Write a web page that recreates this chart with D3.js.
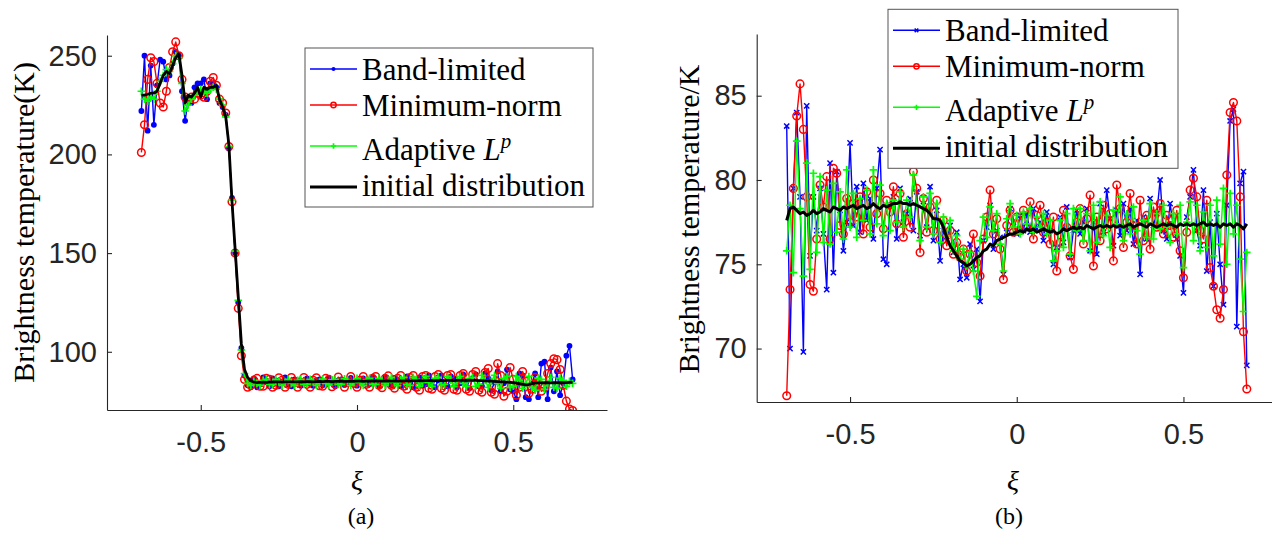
<!DOCTYPE html>
<html>
<head>
<meta charset="utf-8">
<script src="https://cdn.jsdelivr.net/npm/d3@7"></script>
<style>
  html, body { margin: 0; padding: 0; background: #fff; }
  svg { display: block; }
</style>
</head>
<body>
<script>
// ---------------- DATA ----------------
const xi = [-0.69,-0.68,-0.67,-0.66,-0.65,-0.64,-0.63,-0.62,-0.61,-0.60,
-0.59,-0.58,-0.57,-0.56,-0.55,-0.54,-0.53,-0.52,-0.51,-0.50,
-0.49,-0.48,-0.47,-0.46,-0.45,-0.44,-0.43,-0.42,-0.41,-0.40,
-0.39,-0.38,-0.37,-0.36,-0.35,-0.34,-0.33,-0.32,-0.31,-0.30,
-0.29,-0.28,-0.27,-0.26,-0.25,-0.24,-0.23,-0.22,-0.21,-0.20,
-0.19,-0.18,-0.17,-0.16,-0.15,-0.14,-0.13,-0.12,-0.11,-0.10,
-0.09,-0.08,-0.07,-0.06,-0.05,-0.04,-0.03,-0.02,-0.01,0.00,
0.01,0.02,0.03,0.04,0.05,0.06,0.07,0.08,0.09,0.10,
0.11,0.12,0.13,0.14,0.15,0.16,0.17,0.18,0.19,0.20,
0.21,0.22,0.23,0.24,0.25,0.26,0.27,0.28,0.29,0.30,
0.31,0.32,0.33,0.34,0.35,0.36,0.37,0.38,0.39,0.40,
0.41,0.42,0.43,0.44,0.45,0.46,0.47,0.48,0.49,0.50,
0.51,0.52,0.53,0.54,0.55,0.56,0.57,0.58,0.59,0.60,
0.61,0.62,0.63,0.64,0.65,0.66,0.67,0.68,0.69];

// Panel (a)
const aBandLimited = [222,250,212,245,215,235,248,247,238,240,
246,252,250,232,217,228,226,234,236,236,
238,228,236,236,234,226,224,220,203,178,
150,125,102,88,83,82,86.5,82.0,83.5,87.0,
84.5,82.5,86.5,85.5,82.5,84.5,87.0,83.5,82.5,86.0,
85.5,82.8,84.0,86.5,84.0,82.8,85.5,86.0,83.0,83.5,
86.5,84.5,82.5,85.5,86.0,83.2,83.8,86.8,85.0,82.8,
85.2,86.5,83.8,83.5,87.0,85.0,82.6,85.5,87.2,83.8,
83.0,86.8,85.8,82.5,84.5,87.5,84.0,82.0,86.0,87.0,
82.8,83.5,88.0,85.0,82.0,85.5,88.0,83.5,82.5,87.5,
86.5,82.0,84.0,88.5,84.5,81.5,86.5,88.5,82.5,82.5,
89.0,86.5,80.5,84.5,90,80,84,91,81,80,
76,89,88,77,76,84,89,77,94,95,
76,92,80,90,78,84,98,103,86];

const aMinimumNorm = [201,215,238,249,247,236,226,224,232,244,
252,257,250,238,229,228,229,228,231,230,
229,232,237,239,235,228,226,221,204,176,
150,122,98,86,82,83,85.5,86.5,82.5,82.5,
86.5,86.0,82.0,83.0,86.8,85.5,82.0,83.5,87.0,84.5,
82.0,84.5,87.0,83.5,82.0,85.5,86.8,82.8,82.5,86.5,
86.0,82.3,83.5,87.2,85.0,82.0,84.5,87.5,84.0,82.0,
85.5,87.5,83.5,82.0,86.5,87.5,83.0,81.8,86.5,87.8,
83.0,81.5,86.5,88.0,82.5,81.0,87.0,88.0,82.0,80.5,
87.5,88.0,81.5,81.0,87.5,88.5,81.5,80.5,88.0,88.5,
81.0,80.5,88.0,89.0,81.0,80.0,88.5,90.0,80.5,79.5,
89.5,91.5,79.5,78.5,94,88,77.5,80,92,86,
78,82,90,85,79,81,87,84,80,82,
89,94,96.5,96,91,83,75,71,70.2];

const aAdaptiveLp = [232,228,227,229,228,232,237,240,243,242,
246,250,249,236,222,225,228,230,232,233,
232,231,233,234,233,228,225,219,204,177,
151,126,101,89,84,83,85.0,84.0,83.0,85.5,
86.0,83.5,83.5,86.0,85.0,83.0,84.5,86.0,84.0,83.0,
85.5,86.0,83.5,83.5,86.0,85.0,83.0,84.5,86.2,84.0,
83.2,85.8,86.0,83.5,83.5,86.3,85.5,83.0,84.5,86.5,
84.5,83.0,85.5,86.5,83.5,83.5,86.5,85.5,83.0,84.5,
87.0,84.5,82.8,85.8,87.0,83.5,83.0,87.0,86.0,82.5,
84.5,87.5,84.5,82.5,86.5,87.0,83.0,83.5,87.5,85.5,
82.5,85.0,87.5,84.0,82.5,86.5,87.0,82.5,83.5,88.0,
85.5,82.0,85.0,88.0,84.0,81.5,86.5,87.5,82.0,82.5,
87.5,85.5,81.5,84.0,87.5,82.0,80.5,86.5,86.0,81.0,
84.0,87.0,82.0,81.5,86.5,85.5,82.5,85.0,84.0];

const aInitial = [230,230,230.5,231,231,232,236,240,242,241,
245,249,251,240,226,230,229,231,234,229,
234,233,234,234,235,228,224,219,205,176,
152,128,104,91,87,85.3,84.6,84.4,84.5,84.6,
84.5,84.6,84.6,84.7,84.7,84.6,84.7,84.8,84.7,84.8,
84.8,84.9,84.8,84.9,84.9,84.8,84.9,85.0,84.9,85.0,
85.0,84.9,85.0,85.0,85.1,85.0,85.0,85.1,85.0,85.1,
85.1,85.0,85.1,85.2,85.1,85.1,85.2,85.1,85.2,85.2,
85.1,85.2,85.3,85.2,85.3,85.3,85.2,85.3,85.3,85.4,
85.3,85.4,85.4,85.3,85.4,85.4,85.5,85.4,85.5,85.5,
85.4,85.5,85.5,85.6,85.5,85.6,85.5,85.5,85.4,85.4,
85.3,85.2,85.1,85.0,84.9,84.8,84.7,84.6,84.5,84.3,
84.1,83.8,83.5,83.2,83.4,83.9,84.1,84.2,84.2,84.3,
84.3,84.2,84.3,84.4,84.3,84.4,84.4,84.5,84.5];

// Panel (b)
const bBandLimited = [83.2,70.0,79.5,84.0,79.0,69.8,84.4,75.5,79.0,77.0,
79.5,76.8,73.5,81.0,74.5,80.5,78.2,75.8,77.5,82.2,
77.3,79.6,76.9,79.8,77.6,78.9,76.5,79.5,81.8,75.3,
75.0,78.5,79.0,76.5,79.5,77.5,78.0,78.9,77.0,79.3,
76.7,78.5,77.2,79.6,76.4,78.2,75.2,77.0,76.4,77.3,
75.7,76.9,74.1,75.0,74.2,76.2,74.7,75.9,72.8,76.4,
77.2,78.5,75.9,77.0,76.6,74.4,76.9,78.3,77.5,76.8,
77.9,77.0,78.0,76.9,78.3,77.1,77.5,76.4,78.1,77.0,
75.0,76.0,77.8,76.3,78.4,75.4,77.0,78.2,76.8,77.5,
78.3,75.8,77.5,75.6,78.6,76.9,79.4,77.7,76.1,78.2,
76.7,78.6,77.0,78.3,76.2,77.6,74.4,77.8,76.5,78.9,
77.3,78.0,80.0,77.0,76.5,78.6,77.2,76.5,75.5,73.3,
77.8,79.0,80.6,77.0,76.1,79.4,74.6,77.5,73.7,78.0,
75.0,72.6,78.5,83.5,84.2,71.3,79.8,80.5,69.0];

const bMinimumNorm = [67.2,73.5,79.5,83.8,85.7,83.0,79.0,73.8,73.4,76.5,
79.7,78.4,80.2,76.5,80.7,80.4,77.3,76.8,78.9,77.5,
78.6,77.8,79.0,76.8,79.3,77.2,80.0,78.0,79.2,77.1,
78.8,78.1,79.6,77.4,79.2,76.6,78.0,77.2,80.5,79.5,
75.7,78.9,76.9,78.4,77.0,78.8,76.5,77.6,76.1,77.0,
75.6,76.3,75.4,75.9,74.6,75.6,76.8,75.1,74.3,76.5,
77.8,79.4,76.8,77.7,75.9,74.1,77.3,78.2,76.9,77.8,
77.0,78.2,77.2,78.7,76.5,77.9,78.5,76.9,77.5,76.2,
77.8,74.6,76.3,78.2,77.2,75.5,74.7,77.5,78.3,76.2,
77.7,79.1,74.9,77.8,76.4,78.5,77.1,78.0,75.2,79.7,
78.3,76.0,77.5,79.2,77.3,76.2,78.8,76.4,77.9,75.9,
78.4,77.2,78.6,76.8,77.9,77.3,76.6,78.2,75.8,74.2,
76.9,79.4,80.1,79.0,77.0,76.5,78.8,74.8,73.7,72.3,
71.8,73.5,80.3,84.0,84.6,83.5,79.0,71.0,67.6];

const bAdaptiveLp = [75.8,78.5,74.5,82.3,78.3,74.3,81.0,74.7,80.4,75.7,
80.2,76.3,79.4,76.2,79.8,76.9,79.3,76.5,80.6,77.2,
79.2,76.6,78.9,77.6,79.4,76.8,80.6,77.4,79.7,76.7,
78.6,77.0,78.8,77.5,79.3,77.2,78.8,77.8,80.3,78.5,
76.4,79.0,77.2,79.2,76.8,78.6,76.3,77.8,76.7,77.6,
75.8,76.7,75.3,75.9,74.9,75.7,74.6,73.1,76.4,77.8,
76.6,78.4,77.0,78.0,76.2,74.6,77.7,78.6,77.2,77.9,
76.8,78.1,77.4,78.3,76.9,77.8,77.2,78.0,76.8,77.6,
75.2,75.8,77.6,76.0,78.0,75.6,78.3,77.0,78.3,76.4,
78.0,75.8,78.5,76.3,78.7,76.7,77.9,76.0,78.2,77.4,
79.0,76.4,78.0,76.8,78.4,77.0,75.6,77.6,76.6,78.6,
76.5,78.0,77.1,78.5,77.2,76.3,78.0,76.8,78.5,74.8,
77.5,78.7,76.4,78.5,75.8,78.1,76.0,78.5,75.5,78.8,
76.2,79.5,75.0,79.2,76.8,78.5,75.3,72.2,75.7];

const bInitial = [77.6,78.3,78.4,78.2,78.0,78.1,77.9,78.0,78.2,78.0,
78.1,78.3,78.2,78.1,78.4,78.3,78.2,78.4,78.3,78.4,
78.5,78.3,78.4,78.5,78.3,78.4,78.6,78.4,78.3,78.5,
78.4,78.5,78.6,78.6,78.7,78.6,78.6,78.5,78.6,78.5,
78.4,78.3,78.2,78.0,77.7,77.7,77.6,77.2,76.6,76.1,
75.8,75.5,75.2,75.1,74.9,75.0,75.2,75.4,75.5,75.8,
75.9,76.2,76.1,76.4,76.5,76.6,76.7,76.8,76.8,76.9,
77.0,76.9,77.1,77.0,77.1,76.9,77.0,77.1,77.0,76.9,
77.0,76.8,76.9,77.1,77.0,77.1,77.2,77.1,77.2,77.1,
77.3,77.2,77.1,77.2,77.3,77.2,77.3,77.2,77.3,77.2,
77.3,77.2,77.3,77.4,77.2,77.3,77.4,77.3,77.2,77.4,
77.3,77.2,77.3,77.4,77.3,77.4,77.3,77.2,77.4,77.3,
77.4,77.3,77.4,77.3,77.4,77.5,77.3,77.4,77.3,77.4,
77.2,77.4,77.3,77.4,77.2,77.4,77.3,77.1,77.4];

const xTickValues = [-0.5, 0, 0.5];
const aYTicks = [100, 150, 200, 250];
const bYTicks = [70, 75, 80, 85];
const legendNames = ["Band-limited", "Minimum-norm", "Adaptive L^p", "initial distribution"];

// ---------------- DRAWING ----------------
const W = 1272, H = 533;
const SERIF = "'Liberation Serif', 'Times New Roman', serif";
const SANS = "'Liberation Sans', Arial, Helvetica, sans-serif";
const AXC = "#262626";

const svg = d3.select("body").append("svg").attr("width", W).attr("height", H);
svg.append("rect").attr("width", W).attr("height", H).attr("fill", "#fff");
const defs = svg.append("defs");

function drawMarker(sel, type, color, scale) {
  const k = scale || 1;
  if (type === "dot") {
    sel.append("circle").attr("r", 2.9 * k).attr("fill", color);
  } else if (type === "circle") {
    sel.append("circle").attr("r", 3.8 * k).attr("fill", "none").attr("stroke", color).attr("stroke-width", 1.5);
  } else if (type === "plus") {
    const s = 3.8 * k;
    sel.append("path").attr("d", `M${-s},0H${s}M0,${-s}V${s}`).attr("stroke", color).attr("stroke-width", 1.7).attr("fill", "none");
  } else if (type === "cross") {
    const s = 2.6 * k;
    sel.append("path").attr("d", `M${-s},${-s}L${s},${s}M${-s},${s}L${s},${-s}`).attr("stroke", color).attr("stroke-width", 1.5).attr("fill", "none");
  }
}

const tickFmt = d => (d === 0 ? "0" : String(d));

function drawPanel(p) {
  const x = d3.scaleLinear().domain(p.xDomain).range([p.left, p.right]);
  const y = d3.scaleLinear().domain(p.yDomain).range([p.bottom, p.top]);
  const g = svg.append("g");

  defs.append("clipPath").attr("id", "clip" + p.id)
    .append("rect").attr("x", p.left).attr("y", p.top)
    .attr("width", p.right - p.left).attr("height", p.bottom - p.top);

  const plot = g.append("g").attr("clip-path", `url(#clip${p.id})`);
  const line = d3.line().x((d, i) => x(xi[i])).y(d => y(d));

  p.series.forEach(s => {
    plot.append("path").datum(s.values).attr("d", line)
      .attr("fill", "none").attr("stroke", s.color).attr("stroke-width", s.width)
      .attr("stroke-linejoin", "round");
    if (s.marker) {
      const mg = plot.append("g");
      mg.selectAll("g").data(s.values).join("g")
        .attr("transform", (d, i) => `translate(${x(xi[i])},${y(d)})`)
        .each(function () { drawMarker(d3.select(this), s.marker, s.color, 1); });
    }
  });

  // axes
  const xAxis = d3.axisBottom(x).tickValues(xTickValues).tickSize(-5).tickSizeOuter(0)
    .tickPadding(21).tickFormat(tickFmt);
  const yAxis = d3.axisLeft(y).tickValues(p.yTicks).tickSize(-5).tickSizeOuter(0)
    .tickPadding(10).tickFormat(tickFmt);

  const gx = g.append("g").attr("transform", `translate(0,${p.bottom})`).call(xAxis);
  const gy = g.append("g").attr("transform", `translate(${p.left},0)`).call(yAxis);
  [gx, gy].forEach(a => {
    a.attr("color", AXC).attr("font-family", SANS).attr("font-size", 29);
    a.selectAll("path,line").attr("stroke-width", 1.1);
  });

  // y label
  g.append("text")
    .attr("transform", `translate(${p.ylabelX},${(p.top + p.bottom) / 2 + p.ylabelDy}) rotate(-90)`)
    .attr("text-anchor", "middle").attr("font-family", SERIF).attr("font-size", 30)
    .attr("fill", "#000").text(p.ylabel);

  // x label
  g.append("text").attr("x", p.xlabelX).attr("y", 490)
    .attr("text-anchor", "middle").attr("font-family", SERIF).attr("font-style", "italic")
    .attr("font-size", 28).attr("fill", "#000").text("ξ");

  // caption
  g.append("text").attr("x", p.captionX).attr("y", 524)
    .attr("text-anchor", "middle").attr("font-family", SERIF)
    .attr("font-size", 24).attr("fill", "#000").text(p.caption);

  // legend
  const L = p.legend;
  const lg = g.append("g").attr("transform", `translate(${L.x},${L.y})`);
  lg.append("rect").attr("width", L.w).attr("height", L.h)
    .attr("fill", "#fff").attr("stroke", "#555").attr("stroke-width", 1);
  const lineY = [21, 57, 98, 139];
  const textY = [31.5, 67.5, 112, 148];
  p.series.forEach((s, i) => {
    lg.append("line").attr("x1", 5).attr("x2", 52).attr("y1", lineY[i]).attr("y2", lineY[i])
      .attr("stroke", s.color).attr("stroke-width", s.width);
    if (s.marker) {
      const m = lg.append("g").attr("transform", `translate(28.5,${lineY[i]})`);
      drawMarker(m, s.marker, s.color, 0.7);
    }
    const t = lg.append("text").attr("x", 57).attr("y", textY[i])
      .attr("font-family", SERIF).attr("font-size", 31).attr("fill", "#000");
    const name = legendNames[i];
    if (name.includes("^")) {
      const [base, sup] = name.split("^");
      const parts = base.split(" ");
      t.append("tspan").text(parts[0] + " ");
      t.append("tspan").attr("font-style", "italic").text(parts[1]);
      t.append("tspan").attr("font-style", "italic").attr("font-size", 21).attr("dy", -12).text(sup);
    } else {
      t.text(name);
    }
  });
}

drawPanel({
  id: "a", left: 107, right: 607, top: 35, bottom: 410,
  xDomain: [-0.8, 0.8], yDomain: [70.5, 260.5], yTicks: aYTicks,
  ylabel: "Brightness temperature(K)", ylabelX: 34, ylabelDy: 0,
  xlabelX: 357, caption: "(a)", captionX: 361,
  legend: { x: 305, y: 48, w: 288, h: 159 },
  series: [
    { values: aBandLimited, color: "#0000ff", width: 1.4, marker: "dot" },
    { values: aMinimumNorm, color: "#ff0000", width: 1.4, marker: "circle" },
    { values: aAdaptiveLp, color: "#00ff00", width: 1.4, marker: "plus" },
    { values: aInitial, color: "#000000", width: 2.8, marker: null }
  ]
});

drawPanel({
  id: "b", left: 756.7, right: 1276.8, top: 34, bottom: 402,
  xDomain: [-0.78, 0.78], yDomain: [66.83, 88.66], yTicks: bYTicks,
  ylabel: "Brightness temperature/K", ylabelX: 699, ylabelDy: 1,
  xlabelX: 1013, caption: "(b)", captionX: 1009,
  legend: { x: 888, y: 9.3, w: 290, h: 159 },
  series: [
    { values: bBandLimited, color: "#0000ff", width: 1.4, marker: "cross" },
    { values: bMinimumNorm, color: "#ff0000", width: 1.4, marker: "circle" },
    { values: bAdaptiveLp, color: "#00ff00", width: 1.4, marker: "plus" },
    { values: bInitial, color: "#000000", width: 3, marker: null }
  ]
});
</script>
</body>
</html>
